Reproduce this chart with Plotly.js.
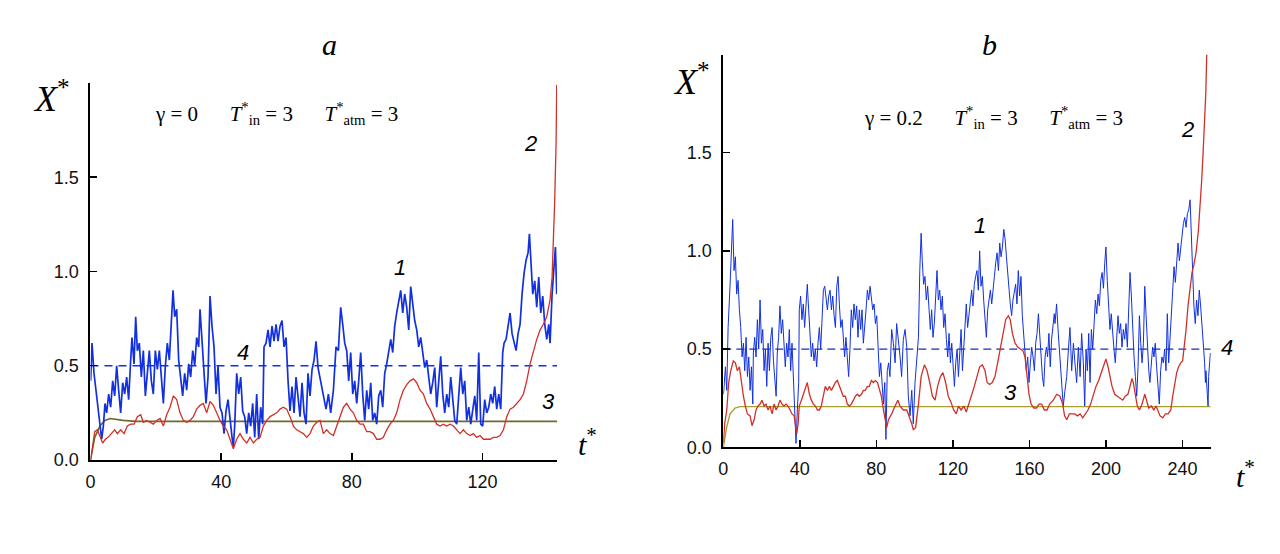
<!DOCTYPE html>
<html>
<head>
<meta charset="utf-8">
<script src="https://cdn.plot.ly/plotly-3.0.1.min.js"></script>
<style>
  html, body { margin: 0; padding: 0; background: #fff; }
  #chart { width: 1280px; height: 554px; }
</style>
</head>
<body>
<div id="chart"></div>
<script>
// ---- panel a (gamma = 0) ----
var tA1 = [0.05,0.46,1.07,1.89,2.70,3.42,3.93,4.44,4.95,5.56,6.17,6.79,7.40,8.01,8.62,9.23,9.85,10.46,11.07,11.68,
  12.30,12.70,13.32,13.83,14.34,14.95,15.56,16.17,16.79,17.40,18.01,18.62,19.23,19.85,20.46,21.07,21.68,22.30,22.91,23.52,
  24.13,24.74,25.26,25.77,26.38,26.99,27.60,28.21,28.83,29.44,30.05,30.66,31.28,31.89,32.50,33.11,33.52,34.13,34.74,35.36,
  35.97,36.58,37.19,37.81,38.42,39.03,39.64,40.26,40.87,41.48,42.09,42.70,43.32,43.72,44.13,44.74,45.36,45.97,46.58,47.19,
  47.81,48.42,49.03,49.64,50.26,50.87,51.48,52.09,52.70,53.11,53.72,54.34,54.95,55.56,56.17,56.79,57.40,58.01,58.62,59.23,
  59.85,60.46,61.07,61.68,62.30,62.91,63.52,64.13,64.74,65.36,65.97,66.58,67.19,67.81,68.42,69.03,69.64,
  70.46,71.27,72.09,72.81,73.52,74.34,75.15,75.87,76.58,77.19,77.81,78.42,79.03,79.64,80.26,80.87,81.48,82.09,82.70,83.32,
  83.93,84.54,85.15,85.77,86.38,86.99,87.60,88.21,88.83,89.44,90.05,90.66,91.28,91.89,92.50,93.11,93.72,94.34,94.95,95.56,
  96.17,96.79,97.40,98.01,98.62,99.23,99.85,100.46,101.07,101.68,102.30,102.91,103.52,104.13,104.74,105.36,105.97,106.58,107.19,107.81,
  108.42,109.03,109.64,110.26,110.87,111.48,112.09,112.70,113.32,113.93,114.54,115.15,115.77,116.38,116.99,117.60,118.21,118.83,119.44,120.05,
  120.66,121.28,121.89,122.50,123.11,123.72,124.34,124.95,125.56,126.17,126.58,127.19,127.81,128.42,129.03,129.64,130.26,130.87,131.48,132.09,
  132.70,133.32,133.93,134.34,134.74,135.36,135.97,136.58,137.19,137.81,138.42,139.03,139.64,140.26,140.66,141.28,141.89,142.30,142.70];
var xA1 = [0.42,0.62,0.46,0.34,0.21,0.11,0.18,0.30,0.25,0.35,0.28,0.42,0.34,0.50,0.37,0.25,0.41,0.35,0.44,0.32,
  0.53,0.65,0.51,0.76,0.58,0.62,0.44,0.58,0.34,0.48,0.58,0.42,0.35,0.58,0.48,0.58,0.46,0.30,0.50,0.62,
  0.53,0.78,0.90,0.76,0.80,0.53,0.42,0.34,0.46,0.37,0.51,0.44,0.58,0.50,0.65,0.60,0.80,0.63,0.42,0.30,
  0.44,0.87,0.71,0.60,0.35,0.50,0.28,0.25,0.14,0.26,0.32,0.21,0.12,0.07,0.18,0.46,0.35,0.44,0.26,0.23,
  0.14,0.25,0.18,0.30,0.12,0.35,0.11,0.28,0.19,0.60,0.62,0.69,0.60,0.71,0.63,0.72,0.63,0.71,0.74,0.60,
  0.65,0.42,0.26,0.39,0.25,0.44,0.32,0.23,0.41,0.25,0.19,0.46,0.34,0.48,0.53,0.63,0.49,
  0.42,0.35,0.27,0.35,0.25,0.37,0.60,0.58,0.81,0.72,0.62,0.58,0.42,0.57,0.35,0.42,0.30,0.42,0.57,0.35,
  0.21,0.37,0.27,0.41,0.21,0.25,0.19,0.34,0.37,0.28,0.46,0.51,0.57,0.64,0.57,0.71,0.78,0.85,0.90,0.78,
  0.88,0.81,0.69,0.92,0.83,0.74,0.69,0.60,0.65,0.57,0.49,0.53,0.42,0.35,0.41,0.49,0.28,0.42,0.55,0.35,
  0.25,0.35,0.28,0.44,0.34,0.21,0.19,0.35,0.49,0.35,0.42,0.21,0.28,0.19,0.27,0.34,0.21,0.57,0.19,0.18,
  0.32,0.25,0.28,0.35,0.30,0.39,0.27,0.35,0.27,0.57,0.62,0.64,0.71,0.78,0.67,0.62,0.58,0.67,0.72,0.88,
  0.99,1.06,1.10,1.20,1.04,0.88,0.95,0.81,0.97,0.78,0.87,0.72,0.64,0.72,0.62,0.88,1.03,1.13,0.88];

var tA2 = [0.05,0.66,1.28,2.09,2.91,3.72,4.54,5.36,6.38,7.40,8.21,9.23,10.26,11.28,12.30,13.32,14.34,15.36,16.17,17.19,
  18.21,19.23,20.26,21.28,22.30,23.32,24.34,25.36,26.38,27.40,28.42,29.44,30.46,31.48,32.50,33.52,34.54,35.56,36.58,37.60,
  38.62,39.64,40.66,41.68,42.70,43.72,44.74,45.77,46.79,47.81,48.83,49.85,50.87,51.89,52.91,53.93,54.95,55.97,56.99,58.01,
  59.03,60.05,61.07,62.09,63.11,64.13,65.15,66.17,67.19,68.21,69.23,70.26,71.27,72.30,73.32,74.34,75.36,76.38,77.40,78.42,
  79.44,80.46,81.48,82.50,83.52,84.54,85.56,86.58,87.60,88.62,89.64,90.66,91.68,92.70,93.72,94.74,95.77,96.79,97.81,98.83,
  99.85,100.87,101.89,102.91,103.93,104.95,105.97,106.99,108.01,109.03,110.05,111.07,112.09,113.11,114.13,115.15,116.17,117.19,118.21,119.23,
  120.26,121.28,122.30,123.32,124.34,125.36,126.38,127.40,128.42,129.44,130.46,131.48,132.50,133.52,134.54,135.56,136.58,137.60,138.62,139.64,
  140.66,141.28,141.68,142.09,142.50,142.70];
var xA2 = [0.00,0.09,0.15,0.16,0.12,0.09,0.11,0.12,0.14,0.16,0.14,0.16,0.14,0.18,0.19,0.19,0.23,0.24,0.20,0.21,
  0.20,0.19,0.21,0.22,0.18,0.24,0.28,0.34,0.32,0.25,0.21,0.20,0.21,0.23,0.27,0.29,0.30,0.25,0.31,0.29,
  0.25,0.21,0.18,0.16,0.11,0.06,0.11,0.14,0.11,0.09,0.12,0.09,0.11,0.12,0.18,0.21,0.23,0.24,0.25,0.27,
  0.28,0.27,0.23,0.18,0.16,0.15,0.14,0.12,0.14,0.18,0.20,0.21,0.14,0.16,0.14,0.13,0.18,0.23,0.28,0.30,
  0.27,0.25,0.21,0.19,0.19,0.15,0.15,0.14,0.11,0.11,0.12,0.16,0.19,0.21,0.25,0.32,0.37,0.40,0.42,0.43,
  0.41,0.37,0.35,0.30,0.27,0.23,0.19,0.18,0.19,0.18,0.19,0.18,0.16,0.14,0.16,0.14,0.13,0.14,0.12,0.13,
  0.11,0.11,0.11,0.12,0.12,0.13,0.16,0.23,0.27,0.28,0.30,0.32,0.35,0.42,0.51,0.58,0.64,0.69,0.72,0.76,
  0.85,0.97,1.13,1.38,1.68,1.99];

var tA3 = [0, 1.3, 2.9, 4.4, 6.0, 8.0, 10.0, 14.0, 142.8];
var xA3 = [0, 0.12, 0.18, 0.21, 0.22, 0.215, 0.21, 0.205, 0.205];

var tA4 = [0, 142.8];
var xA4 = [0.5, 0.5];

// ---- panel b (gamma = 0.2) ----
var tB1 = [0.1,0.4,1.1,1.8,2.5,3.5,4.2,4.9,5.6,6.3,7.0,7.7,8.4,9.1,9.8,10.5,11.2,11.9,12.6,13.3,
  14.0,14.7,15.4,15.7,16.4,17.1,17.8,18.5,19.2,19.9,20.6,21.3,22.0,22.7,23.4,24.1,24.8,25.5,26.2,26.9,
  27.6,28.2,28.9,29.6,30.3,31.0,31.7,32.4,33.1,33.8,34.5,35.2,35.9,36.6,37.3,38.0,38.7,39.4,39.7,40.4,
  41.1,41.8,42.5,43.2,43.9,44.6,45.3,46.0,46.7,47.4,48.1,48.8,49.5,50.2,50.9,51.6,52.3,53.0,53.7,54.4,
  55.1,55.8,56.5,57.2,57.9,58.6,59.3,60.0,60.7,61.4,62.1,62.7,63.4,64.1,64.8,65.5,66.2,66.9,67.6,68.3,
  69.0,69.7,70.4,71.1,71.8,72.5,73.2,73.9,74.6,75.3,76.0,76.7,77.4,78.1,78.8,79.5,80.2,80.9,81.6,82.3,
  83.0,83.7,84.4,85.0,85.7,86.4,87.1,
  88.0,88.9,89.8,90.6,91.5,92.4,93.2,94.1,95.0,95.9,96.7,97.6,98.5,99.3,100.2,101.1,102.0,102.7,103.4,104.0,
  104.7,105.4,106.1,106.8,107.5,108.2,108.9,109.6,110.3,111.0,111.7,112.4,113.1,113.8,114.5,115.2,115.9,116.6,117.3,118.0,
  118.7,119.4,120.1,120.8,121.5,122.2,122.9,123.6,124.3,125.0,125.7,126.4,127.0,127.7,128.4,129.1,129.8,130.5,131.2,131.9,
  132.6,133.3,134.0,134.7,135.4,136.1,136.8,137.5,138.2,138.9,139.6,140.3,141.0,141.7,142.4,143.1,143.8,144.5,145.2,145.9,
  146.6,147.3,148.0,148.7,149.4,150.0,150.7,151.4,152.1,152.8,153.5,154.2,154.9,155.6,156.3,157.0,157.7,158.4,159.1,159.8,
  160.5,161.2,161.9,162.6,163.3,164.0,164.7,165.4,166.1,166.8,167.5,168.2,168.9,169.5,170.2,170.9,171.6,172.3,173.0,
  173.4,174.2,175.1,176.0,176.9,177.7,178.6,179.5,180.4,181.2,182.1,183.0,183.8,184.7,185.6,186.5,187.3,188.2,188.9,189.6,
  190.3,191.0,191.7,192.4,193.1,193.8,194.5,195.2,195.9,196.6,197.3,198.0,198.7,199.4,200.0,200.7,201.4,202.1,202.8,203.5,
  204.2,204.9,205.6,206.3,207.0,207.7,208.4,209.1,209.8,210.5,211.2,211.9,212.6,213.3,214.0,214.7,215.4,216.1,216.8,217.5,
  218.2,218.9,219.6,220.3,221.0,221.7,222.4,223.0,223.7,224.4,225.1,225.8,226.5,227.2,227.9,228.6,229.3,230.0,230.7,231.4,
  232.1,232.8,233.5,234.2,234.9,235.6,236.3,237.0,237.7,238.4,239.1,239.8,240.5,241.2,241.9,242.6,243.3,244.0,244.7,245.4,
  246.0,246.7,247.4,248.1,248.8,249.5,250.2,250.9,251.6,252.0,252.3,253.0,253.4,253.7,254.2,254.6];
var xB1 = [0.27,0.33,0.41,0.29,0.61,0.82,1.00,1.16,0.90,0.97,0.78,0.85,0.70,0.61,0.46,0.53,0.39,0.56,0.36,0.46,
  0.29,0.41,0.22,0.48,0.56,0.46,0.65,0.50,0.75,0.53,0.60,0.39,0.50,0.31,0.53,0.39,0.56,0.61,0.44,0.36,
  0.26,0.48,0.56,0.72,0.58,0.65,0.50,0.41,0.53,0.46,0.60,0.39,0.53,0.36,0.26,0.02,0.19,0.33,0.70,0.77,
  0.65,0.73,0.61,0.70,0.83,0.70,0.56,0.46,0.53,0.44,0.50,0.41,0.53,0.61,0.50,0.65,0.80,0.82,0.75,0.70,
  0.77,0.80,0.70,0.77,0.67,0.61,0.82,0.87,0.72,0.61,0.65,0.55,0.46,0.56,0.46,0.36,0.50,0.70,0.61,0.73,
  0.65,0.72,0.56,0.70,0.60,0.70,0.53,0.60,0.70,0.80,0.75,0.82,0.77,0.70,0.73,0.63,0.67,0.50,0.36,0.43,
  0.33,0.22,0.33,0.04,0.39,0.43,0.36,
  0.60,0.53,0.43,0.63,0.56,0.46,0.36,0.55,0.60,0.51,0.26,0.16,0.29,0.12,0.33,0.43,0.56,0.90,1.09,0.95,
  0.83,0.87,0.75,0.82,0.67,0.60,0.70,0.56,0.63,0.77,0.90,0.75,0.80,0.70,0.77,0.61,0.68,0.55,0.46,0.58,
  0.43,0.53,0.39,0.31,0.43,0.50,0.36,0.46,0.60,0.39,0.53,0.67,0.73,0.61,0.68,0.75,0.80,0.72,0.83,0.87,
  0.90,0.80,1.00,0.82,0.87,0.75,0.67,0.56,0.70,0.75,0.80,0.73,0.82,0.87,0.94,0.99,0.90,1.04,0.97,1.02,
  1.11,1.06,0.97,0.90,0.80,0.73,0.67,0.75,0.80,0.83,0.73,0.90,0.77,0.87,0.67,0.58,0.50,0.39,0.46,0.33,
  0.43,0.51,0.46,0.39,0.53,0.58,0.68,0.55,0.43,0.36,0.31,0.46,0.51,0.46,0.58,0.41,0.55,0.63,0.68,
  0.63,0.73,0.58,0.46,0.36,0.21,0.29,0.36,0.50,0.61,0.39,0.53,0.43,0.33,0.51,0.36,0.58,0.43,0.21,0.50,
  0.39,0.58,0.33,0.60,0.50,0.67,0.75,0.68,0.78,0.72,0.85,0.89,0.81,0.94,1.02,0.85,0.70,0.60,0.68,0.56,
  0.50,0.43,0.56,0.67,0.58,0.63,0.51,0.60,0.55,0.63,0.51,0.67,0.89,0.77,0.60,0.46,0.36,0.26,0.41,0.67,
  0.53,0.43,0.53,0.82,0.67,0.50,0.39,0.33,0.43,0.51,0.46,0.53,0.41,0.33,0.22,0.39,0.46,0.43,0.50,0.39,
  0.68,0.43,0.56,0.70,0.80,0.92,0.84,0.97,1.04,0.95,1.02,1.09,1.14,1.17,1.12,1.19,1.21,1.26,1.06,0.82,
  0.72,0.63,0.75,0.67,0.80,0.72,0.63,0.53,0.43,0.33,0.39,0.27,0.21,0.36,0.41,0.48];

var tB2 = [0.0,0.7,1.8,2.8,3.9,5.2,6.3,7.3,8.4,9.4,10.5,11.5,12.6,14.0,15.0,16.1,17.1,18.1,19.2,20.2,
  21.3,22.3,23.4,24.4,25.5,26.5,27.6,28.6,29.6,30.7,31.7,32.8,33.8,34.9,35.9,37.0,37.7,38.4,39.1,39.7,
  40.8,41.8,42.9,43.9,45.0,46.0,47.1,48.1,49.2,50.2,51.2,52.3,53.3,54.4,55.4,56.5,57.5,58.6,59.6,60.7,
  61.7,62.7,63.8,64.8,65.9,66.9,68.0,69.0,70.1,71.1,72.2,73.2,74.2,75.3,76.3,77.4,78.4,79.5,80.6,81.6,
  82.6,83.7,84.7,85.4,
  86.3,88.0,89.8,91.2,92.4,94.1,95.9,97.1,98.5,99.3,100.5,102.0,103.4,105.1,106.5,107.9,109.3,110.7,112.0,113.5,
  114.8,116.2,117.6,119.0,120.4,121.8,122.9,124.3,125.7,127.0,128.4,129.8,131.2,132.6,134.0,135.4,136.8,137.9,139.2,140.6,
  142.0,143.4,144.8,146.2,147.6,149.0,150.0,151.1,152.5,153.9,155.3,156.7,157.7,158.8,159.8,160.9,162.3,163.7,165.0,166.4,
  167.8,169.2,170.6,
  172.5,174.3,176.0,177.4,178.4,179.5,180.9,182.3,183.7,185.1,186.5,187.9,189.2,190.6,192.0,193.4,194.8,196.2,197.6,199.0,
  200.0,201.1,202.1,203.2,204.6,205.9,207.4,208.8,210.1,211.5,212.6,213.6,214.3,215.4,216.4,217.5,218.9,220.3,221.3,222.4,
  223.7,225.1,226.2,227.2,228.3,229.7,231.1,232.5,233.9,234.9,236.0,237.0,238.0,239.1,240.1,240.8,241.9,242.9,244.0,245.0,
  246.0,247.1,248.3,249.2,250.0,250.8,251.6,252.2,252.7];
var xB2 = [0.02,0.12,0.19,0.33,0.39,0.44,0.43,0.39,0.41,0.33,0.26,0.21,0.17,0.16,0.11,0.14,0.19,0.21,0.22,0.24,
  0.21,0.22,0.19,0.21,0.17,0.22,0.19,0.21,0.24,0.22,0.21,0.22,0.21,0.19,0.17,0.16,0.10,0.07,0.12,0.21,
  0.24,0.27,0.31,0.33,0.27,0.24,0.22,0.21,0.19,0.19,0.21,0.26,0.31,0.29,0.31,0.29,0.31,0.33,0.34,0.31,
  0.29,0.26,0.26,0.22,0.21,0.22,0.24,0.26,0.27,0.26,0.27,0.29,0.29,0.31,0.31,0.34,0.33,0.34,0.33,0.29,
  0.26,0.19,0.14,0.10,
  0.14,0.17,0.21,0.24,0.21,0.19,0.19,0.16,0.12,0.09,0.10,0.22,0.36,0.42,0.39,0.33,0.26,0.24,0.31,0.36,
  0.38,0.33,0.26,0.23,0.19,0.17,0.21,0.19,0.21,0.18,0.22,0.27,0.31,0.36,0.41,0.42,0.39,0.33,0.32,0.33,
  0.36,0.43,0.50,0.58,0.65,0.67,0.65,0.58,0.53,0.51,0.50,0.49,0.46,0.36,0.27,0.22,0.20,0.20,0.22,0.22,
  0.19,0.19,0.22,
  0.24,0.27,0.26,0.22,0.16,0.14,0.17,0.17,0.17,0.16,0.17,0.15,0.17,0.19,0.22,0.27,0.31,0.34,0.38,0.41,
  0.45,0.41,0.36,0.31,0.27,0.26,0.25,0.24,0.26,0.27,0.31,0.35,0.33,0.26,0.21,0.19,0.22,0.27,0.24,0.20,
  0.21,0.19,0.21,0.19,0.16,0.15,0.17,0.17,0.19,0.26,0.33,0.38,0.41,0.43,0.44,0.50,0.60,0.72,0.82,0.89,
  0.93,0.99,1.10,1.22,1.35,1.50,1.65,1.80,2.00];

var tB3 = [0, 1.7, 3.5, 6.1, 8.7, 254.8];
var xB3 = [0, 0.10, 0.17, 0.20, 0.207, 0.207];

var tB4 = [0, 254.8];
var xB4 = [0.5, 0.5];

var blue = '#1230e0', red = '#d03028';

var data = [
  {x: tA4, y: xA4, mode: 'lines', line: {color: blue, width: 1.6, dash: '8px,6px'}},
  {x: tA3, y: xA3, mode: 'lines', line: {color: '#6e6a2a', width: 1.6}},
  {x: tA1, y: xA1, mode: 'lines', line: {color: blue, width: 1.7}},
  {x: tA2, y: xA2, mode: 'lines', line: {color: red, width: 1.3}},
  {x: tB4, y: xB4, mode: 'lines', xaxis: 'x2', yaxis: 'y2', line: {color: '#1a2cb8', width: 1.1, dash: '8px,5px'}},
  {x: tB3, y: xB3, mode: 'lines', xaxis: 'x2', yaxis: 'y2', line: {color: '#aa9e2c', width: 1.4}},
  {x: tB1, y: xB1, mode: 'lines', xaxis: 'x2', yaxis: 'y2', line: {color: blue, width: 1.0}},
  {x: tB2, y: xB2, mode: 'lines', xaxis: 'x2', yaxis: 'y2', line: {color: red, width: 1.3}}
];

var tickFont = {family: '"Liberation Sans", Arial, sans-serif', size: 18, color: '#111'};
function xax(dom, rng, anchor) {
  return {domain: dom, range: rng, anchor: anchor, showline: true, linewidth: 2, linecolor: '#000',
    ticks: 'inside', ticklen: 7, tickwidth: 1.5, tickcolor: '#000', dtick: 40, tick0: 0,
    showgrid: false, zeroline: false, tickfont: tickFont, ticklabelstandoff: 4};
}
function yax(dom, anchor) {
  return {domain: dom, range: [0, 2.0], anchor: anchor, showline: true, linewidth: 2, linecolor: '#000',
    ticks: 'inside', ticklen: 7, tickwidth: 1.5, tickcolor: '#000', tickformat: '.1f',
    tickvals: [0, 0.5, 1.0, 1.5],
    showgrid: false, zeroline: false, tickfont: tickFont, ticklabelstandoff: 6};
}

var serif = '"Liberation Serif", "Times New Roman", serif';
var sans = '"Liberation Sans", Arial, sans-serif';
function note(x, y, text, size, family, ref) {
  var a = {x: x, y: y, text: text, showarrow: false, xanchor: 'center', yanchor: 'middle',
    font: {family: family, size: size, color: '#000'}};
  if (ref) { a.xref = ref[0]; a.yref = ref[1]; } else { a.xref = 'paper'; a.yref = 'paper'; }
  return a;
}
var sp = '\u2003\u2002';
var annotations = [
  note(0.2578, 0.919, '<i>a</i>', 30, serif),
  note(0.7734, 0.919, '<i>b</i>', 30, serif),
  note(0.040, 0.826, '<i>X</i><sup>*</sup>', 36, serif),
  note(0.540, 0.856, '<i>X</i><sup>*</sup>', 36, serif),
  note(0.459, 0.202, '<i>t</i><sup>*</sup>', 30, serif),
  note(0.973, 0.145, '<i>t</i><sup>*</sup>', 30, serif),
  note(57, 1.84, 'γ = 0' + sp + '<i>T</i><sup>*</sup><sub>in</sub> = 3' + sp + '<i>T</i><sup>*</sup><sub>atm</sub> = 3', 21, serif, ['x', 'y']),
  note(141, 1.68, 'γ = 0.2' + sp + '<i>T</i><sup>*</sup><sub>in</sub> = 3' + sp + '<i>T</i><sup>*</sup><sub>atm</sub> = 3', 21, serif, ['x2', 'y2']),
  note(94.8, 1.02, '<i>1</i>', 22, sans, ['x', 'y']),
  note(134.6, 1.68, '<i>2</i>', 22, sans, ['x', 'y']),
  note(140.1, 0.31, '<i>3</i>', 22, sans, ['x', 'y']),
  note(46.7, 0.57, '<i>4</i>', 22, sans, ['x', 'y']),
  note(134.2, 1.13, '<i>1</i>', 22, sans, ['x2', 'y2']),
  note(242.4, 1.62, '<i>2</i>', 22, sans, ['x2', 'y2']),
  note(149.9, 0.28, '<i>3</i>', 22, sans, ['x2', 'y2']),
  note(0.9586, 0.372, '<i>4</i>', 22, sans)
];

var layout = {
  width: 1280, height: 554,
  margin: {l: 0, r: 0, t: 0, b: 0},
  paper_bgcolor: '#fff', plot_bgcolor: '#fff',
  showlegend: false,
  xaxis: xax([0.0707, 0.4352], [0, 142.8], 'y'),
  yaxis: yax([0.1697, 0.8502], 'x'),
  xaxis2: xax([0.5651, 0.9459], [0, 254.8], 'y2'),
  yaxis2: yax([0.1926, 0.9016], 'x2'),
  annotations: annotations
};

Plotly.newPlot('chart', data, layout, {displayModeBar: false, staticPlot: true});
</script>
</body>
</html>
